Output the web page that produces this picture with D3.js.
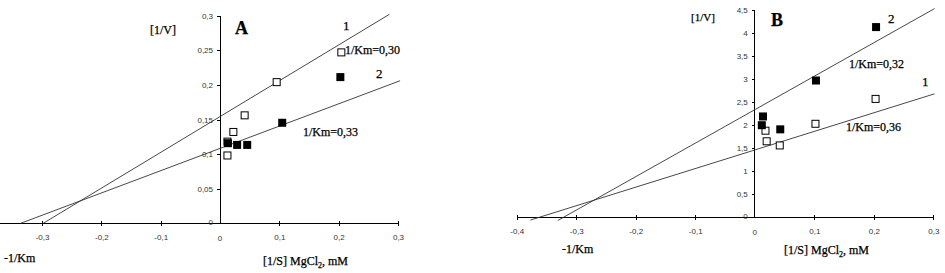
<!DOCTYPE html>
<html>
<head>
<meta charset="utf-8">
<script src="https://cdn.jsdelivr.net/npm/d3@7/dist/d3.min.js"></script>
<style>
    body { margin: 0; background: #fff; }
    .chart .tick text { font-family: "Liberation Sans", Arial, sans-serif; font-size: 8px; fill: #333; }
    .chart .domain, .chart .tick line { stroke: #000; shape-rendering: crispEdges; }
    .chart .fit { stroke: #333; stroke-width: 0.9; fill: none; }
    .chart .lbl { font-family: "Liberation Serif", "Times New Roman", serif; fill: #000; stroke: #000; stroke-width: 0.25; }
</style>
</head>
<body>
<svg class="chart"></svg>
<script>
    // panel A : [1/S] vs [1/V]
    var aOpenX = [0.0125, 0.0125, 0.0225, 0.0415, 0.0955, 0.2045];
    var aOpenY = [0.098, 0.118, 0.132, 0.156, 0.204, 0.247];
    var aFillX = [0.0125, 0.028, 0.045, 0.104, 0.202];
    var aFillY = [0.1165, 0.114, 0.114, 0.146, 0.212];
    var aLine1 = [[-0.298, 0], [0.2855, 0.302]];
    var aLine2 = [[-0.336, 0], [0.3035, 0.206]];
    var aTicksX = [-0.3, -0.2, -0.1, 0, 0.1, 0.2, 0.3];
    var aTicksY = [0, 0.05, 0.1, 0.15, 0.2, 0.25, 0.3];

    // panel B
    var bOpenX = [0.018, 0.02, 0.042, 0.102, 0.203];
    var bOpenY = [1.88, 1.65, 1.56, 2.03, 2.57];
    var bFillX = [0.013, 0.011, 0.042, 0.102, 0.203];
    var bFillY = [2.2, 2.01, 1.92, 2.98, 4.14];
    var bLine1 = [[-0.377, -0.06], [0.302, 2.68]];
    var bLine2 = [[-0.331, -0.07], [0.302, 4.53]];
    var bTicksX = [-0.4, -0.3, -0.2, -0.1, 0, 0.1, 0.2, 0.3];
    var bTicksY = [0, 0.5, 1, 1.5, 2, 2.5, 3, 3.5, 4, 4.5];

    var width = 945, height = 273;
    var sq = 7;
    var fmt = function (d) { return String(+d.toFixed(2)).replace(".", ","); };

    var chart = d3.select(".chart").attr("width", width).attr("height", height);

    function panel(cfg) {
        var x = d3.scaleLinear().domain([-0.4, 0.3]).range(cfg.xr);
        var y = d3.scaleLinear().domain(cfg.yd).range(cfg.yr);
        var g = chart.append("g");

        var axisX = d3.axisBottom(x).tickValues(cfg.tx).tickSize(3).tickPadding(8).tickFormat(fmt);
        var gx = g.append("g")
            .attr("transform", "translate(0," + y(0) + ")")
            .call(axisX);
        gx.selectAll(".tick line").attr("y1", -2);
        gx.select(".domain").attr("d", "M" + x(-0.4) + ",0H" + x(0.3));

        var axisY = d3.axisLeft(y).tickValues(cfg.ty).tickSize(3).tickPadding(4).tickFormat(fmt);
        var gy = g.append("g")
            .attr("transform", "translate(" + x(0) + ",0)")
            .call(axisY);
        gy.select(".domain").attr("d", "M0," + y(cfg.yd[0]) + "V" + y(cfg.yd[1]));
        gy.selectAll(".tick").filter(function (d) { return d === 0; }).select("text").attr("dy", "0.15em");
        gx.selectAll(".tick").filter(function (d) { return d === 0; }).remove();
        g.append("text").attr("x", x(0)).attr("y", y(0) + 18).attr("text-anchor", "middle")
            .style("font-family", "Liberation Sans, Arial, sans-serif").style("font-size", "8px").style("fill", "#333")
            .text("0");

        var line = d3.line().x(function (d) { return x(d[0]); }).y(function (d) { return y(d[1]); });
        cfg.lines.forEach(function (l) {
            g.append("path").attr("class", "fit").attr("d", line(l));
        });

        g.selectAll(".open").data(d3.range(cfg.ox.length)).enter().append("rect")
            .attr("x", function (i) { return x(cfg.ox[i]) - sq / 2; })
            .attr("y", function (i) { return y(cfg.oy[i]) - sq / 2; })
            .attr("width", sq).attr("height", sq)
            .attr("fill", "#fff").attr("stroke", "#000").attr("stroke-width", 1);

        g.selectAll(".fill").data(d3.range(cfg.fx.length)).enter().append("rect")
            .attr("x", function (i) { return x(cfg.fx[i]) - sq / 2; })
            .attr("y", function (i) { return y(cfg.fy[i]) - sq / 2; })
            .attr("width", sq + 1).attr("height", sq + 1)
            .attr("fill", "#000");

        cfg.labels.forEach(function (t) {
            var el = g.append("text").attr("class", "lbl")
                .attr("x", t[0]).attr("y", t[1])
                .style("font-size", t[3] + "px")
                .style("font-weight", t[4] ? "bold" : "normal");
            if (t[2] === "axis") {
                el.append("tspan").text("[1/S] MgCl");
                el.append("tspan").attr("font-size", "8px").attr("dy", 3).text("2");
                el.append("tspan").attr("dy", -3).text(", mM");
            } else {
                el.text(t[2]);
            }
        });
    }

    panel({
        xr: [-17.3, 398], yd: [0, 0.3], yr: [223.3, 15.7],
        tx: aTicksX, ty: aTicksY,
        ox: aOpenX, oy: aOpenY, fx: aFillX, fy: aFillY,
        lines: [aLine1, aLine2],
        labels: [
            [150, 34, "[1/V]", 12, false],
            [235, 34, "A", 18, true],
            [343, 30, "1", 13, false],
            [345, 54, "1/Km=0,30", 12, false],
            [376, 78, "2", 13, false],
            [303, 136, "1/Km=0,33", 12, false],
            [4, 262, "-1/Km", 12, false],
            [263, 265, "axis", 12, false]
        ]
    });

    panel({
        xr: [516.7, 933.3], yd: [0, 4.5], yr: [217.3, 10],
        tx: bTicksX, ty: bTicksY,
        ox: bOpenX, oy: bOpenY, fx: bFillX, fy: bFillY,
        lines: [bLine1, bLine2],
        labels: [
            [691, 21, "[1/V]", 11, false],
            [771, 26, "B", 18, true],
            [888, 23, "2", 13, false],
            [849, 68, "1/Km=0,32", 12, false],
            [922, 86, "1", 13, false],
            [846, 131, "1/Km=0,36", 12, false],
            [562, 253, "-1/Km", 12, false],
            [784, 254, "axis", 12, false]
        ]
    });
</script>
</body>
</html>
